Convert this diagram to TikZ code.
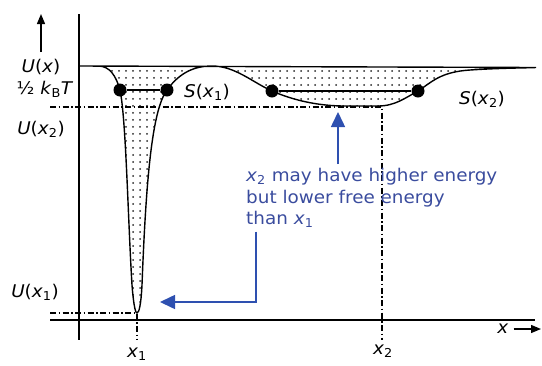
\documentclass[tikz,border=0pt]{standalone}
\usepackage{fontspec}
\setmainfont{DejaVu Sans}[FakeStretch=1.05]
\usetikzlibrary{arrows.meta,patterns}
\definecolor{bluex}{HTML}{2E50B0}
\definecolor{bluetxt}{HTML}{3A4C9E}
\pgfdeclarepatternformonly{sparsedots}{\pgfpoint{-1pt}{-1pt}}{\pgfpoint{1pt}{1pt}}{\pgfpoint{7pt}{7pt}}{\pgfpathcircle{\pgfpointorigin}{1pt}\pgfusepath{fill}}
\tikzset{
  lbl/.style={font=\fontsize{17.5}{21.5}\selectfont,inner sep=1pt},
  dd/.style={line width=1.2pt,dash pattern=on 6pt off 2.5pt on 1.5pt off 2.5pt},
  ar/.style={-{Triangle[length=10pt,width=8pt]},line width=1.3pt},
  bar/.style={-{Triangle[length=15pt,width=14pt]},line width=1.5pt,bluex},
  dot/.style={circle,fill=black,inner sep=0pt,minimum size=13pt},
  curve/.style={line width=1.4pt}
}
\newcommand{\xv}{\textit{x}}
\begin{document}
\begin{tikzpicture}[x=1pt,y=-1pt]
\useasboundingbox (0,0) rectangle (542,365);
\draw[line width=1.8pt] (79,14) -- (79,340);
\draw[line width=1.8pt] (50,320) -- (535,320);
\draw[curve,pattern=sparsedots,pattern color=black!85] (79,66) -- (98,66)
  .. controls (110,66) and (116,76) .. (120,90)
  .. controls (126,118) and (128,220) .. (132,285)
  .. controls (134,310) and (136,313) .. (137,313)
  .. controls (139,313) and (141,305) .. (142,285)
  .. controls (146,180) and (152,110) .. (167,90)
  .. controls (180,72) and (195,66) .. (212,66)
  .. controls (235,66) and (252,82) .. (272,91)
  .. controls (295,101) and (320,106) .. (345,106) -- (378,106)
  .. controls (395,106) and (405,98) .. (418,91)
  .. controls (432,82) and (440,72) .. (470,70)
  .. controls (500,68) and (525,68) .. (536,67.5) -- cycle;
\coordinate (m1) at (137,313);
\coordinate (m2) at (382,106);
\draw[dd] (50,313) -- (m1) -- (m1 |- 0,340);
\draw[dd] (50,107) -- (m2 |- 0,107) -- (m2 |- 0,340);
\node[dot] (p1) at (120,90) {};
\node[dot] (p2) at (167,90) {};
\node[dot] (q1) at (272,91) {};
\node[dot] (q2) at (418,91) {};
\draw[curve] (p1) -- (p2);
\draw[curve] (q1) -- (q2);
\node[lbl] (lu) at (41,67) {\textit{U}(\xv)};
\node[lbl] (lkt) at (45,89) {½ \textit{k}\textsubscript{B}\textit{T}};
\node[lbl] (lu2) at (41,129) {\textit{U}(\xv\textsubscript{2})};
\node[lbl] (lu1) at (35,292) {\textit{U}(\xv\textsubscript{1})};
\node[lbl] (ls1) at (207,92) {\textit{S}(\xv\textsubscript{1})};
\node[lbl] (ls2) at (482,99) {\textit{S}(\xv\textsubscript{2})};
\node[lbl] (lx1) at (137,354) {\xv\textsubscript{1}};
\node[lbl] (lx2) at (383,351) {\xv\textsubscript{2}};
\node[lbl] (lx) at (503,329) {\xv};
\draw[ar] ([yshift=6pt]lu.north) -- (41,14);
\draw[ar] ([xshift=4pt]lx.east) -- (541,329);
\node[lbl,text=bluetxt,align=left,anchor=north west] (note) at (245,167)
  {\xv\textsubscript{2} may have higher energy\\but lower free energy\\than \xv\textsubscript{1}};
\coordinate (tipu) at (338,112);
\coordinate (bend) at (256,302);
\coordinate (tipl) at (160,302);
\draw[bar] ([yshift=3pt]note.north -| tipu) -- (tipu);
\draw[bar] ([yshift=-3pt]note.south -| bend) -- (bend) -- (tipl);
\end{tikzpicture}
\end{document}
